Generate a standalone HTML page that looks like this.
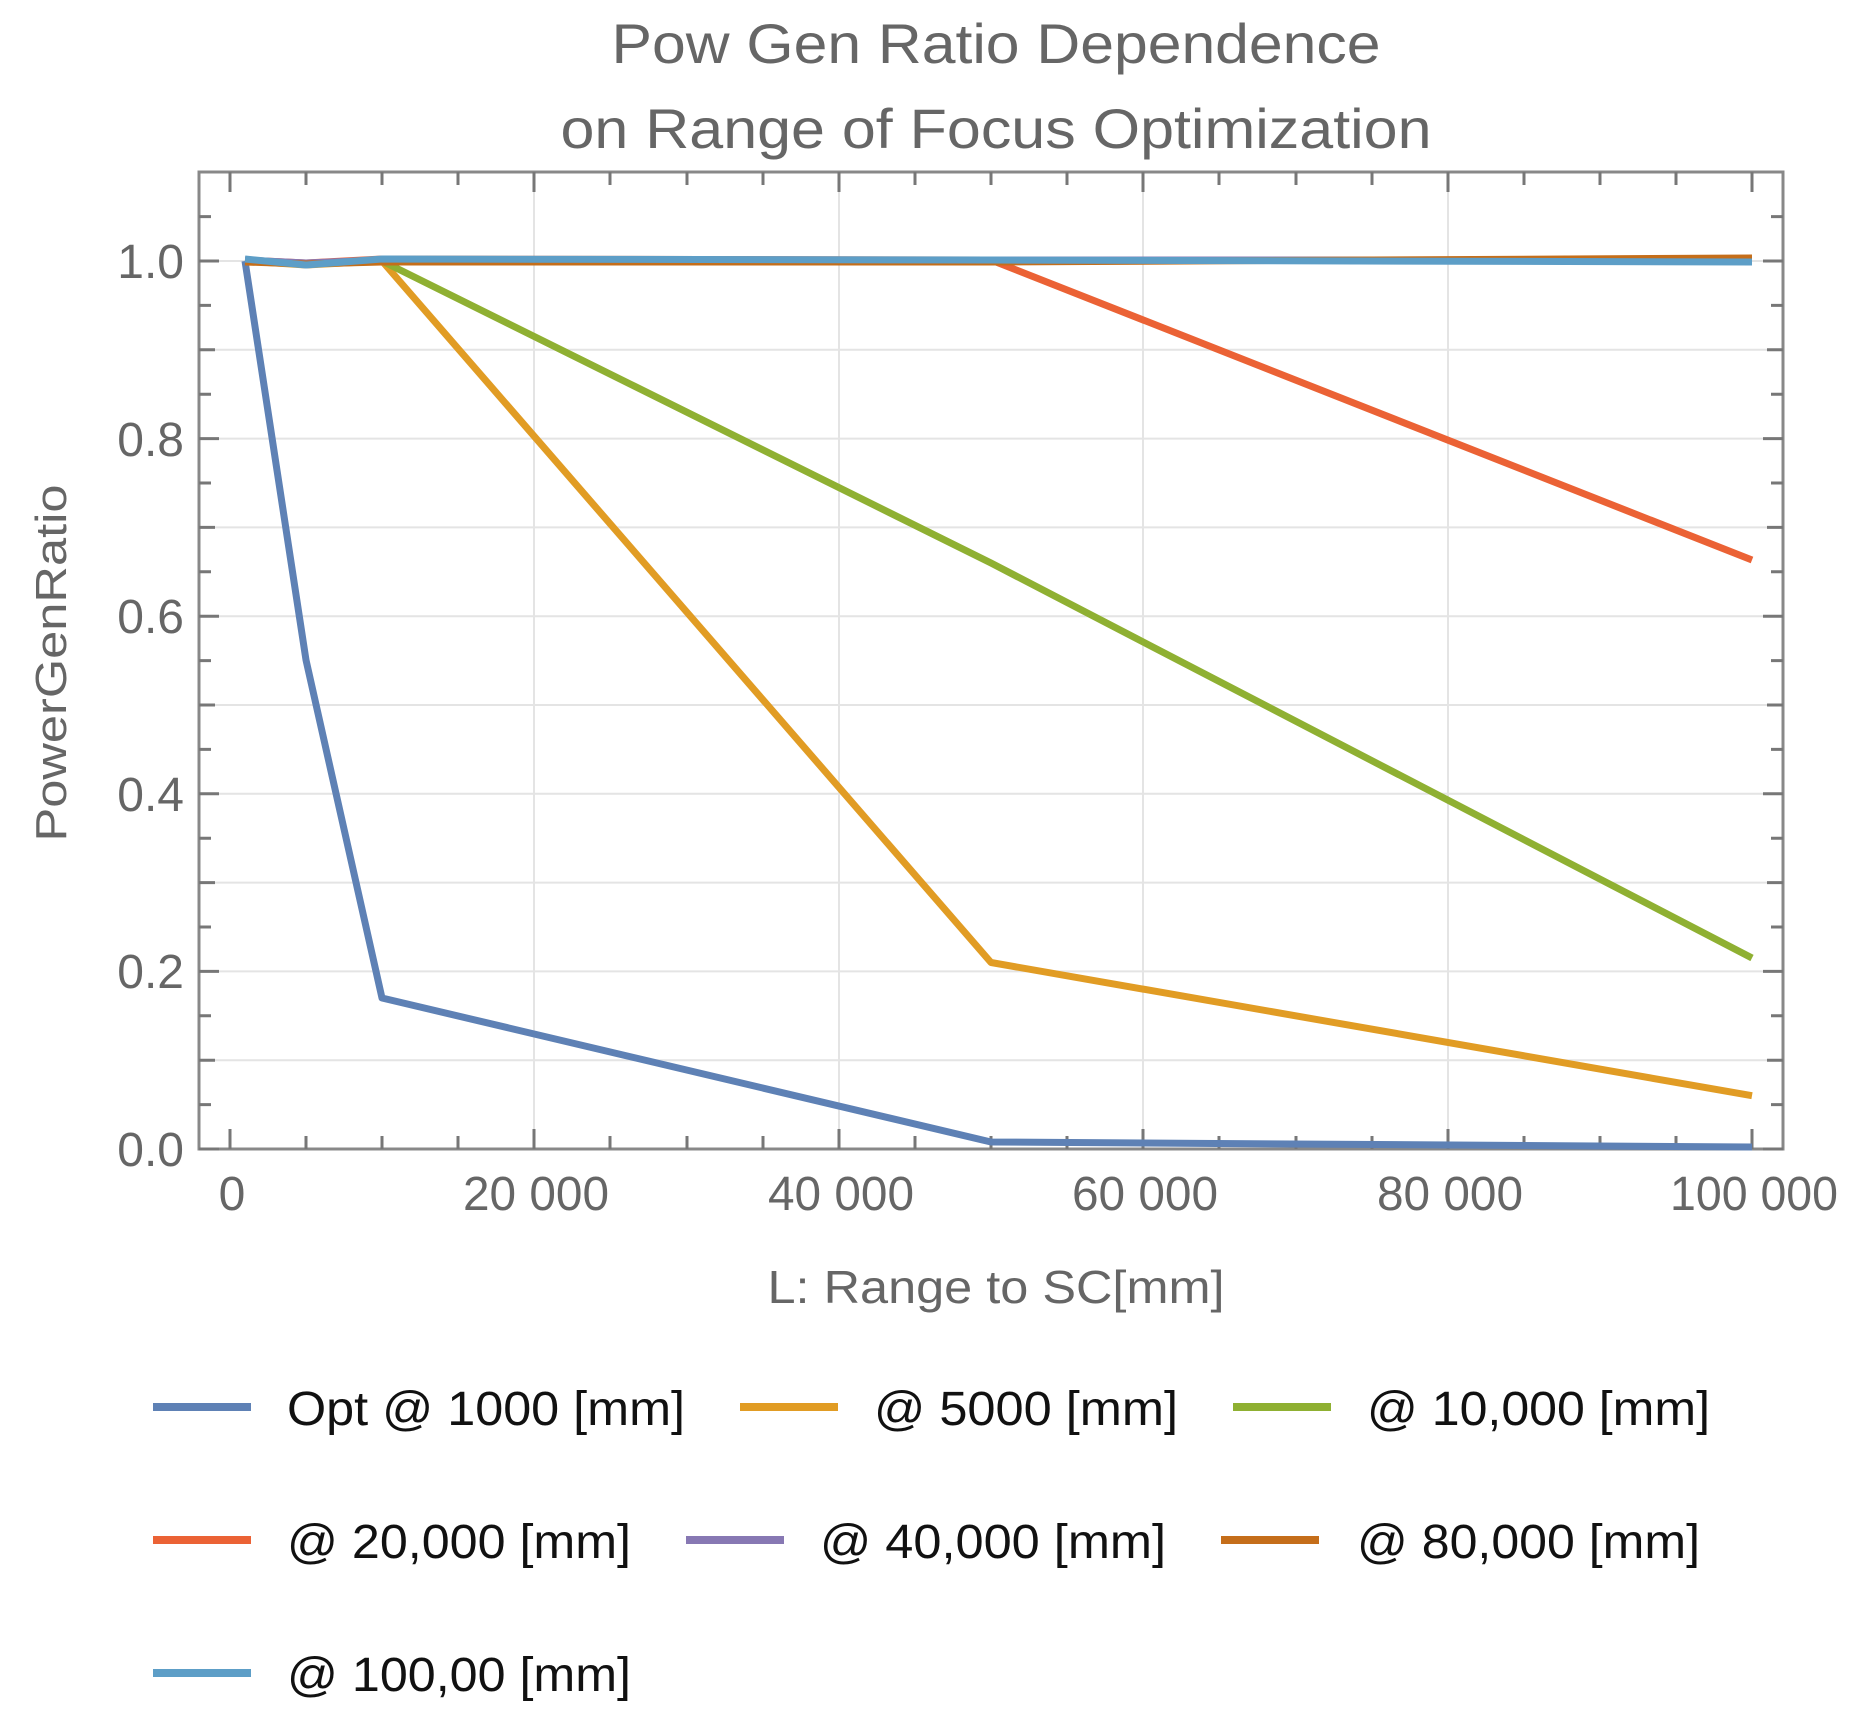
<!DOCTYPE html>
<html><head><meta charset="utf-8"><style>
html,body{margin:0;padding:0;background:#fff;}
svg{display:block;font-family:"Liberation Sans",Arial,sans-serif;}
</style></head><body>
<svg width="1868" height="1721" viewBox="0 0 1868 1721" xmlns="http://www.w3.org/2000/svg">
<rect width="1868" height="1721" fill="#fff"/>
<!-- titles -->
<text x="996" y="63" font-size="56" fill="#666" text-anchor="middle" textLength="769" lengthAdjust="spacingAndGlyphs">Pow Gen Ratio Dependence</text>
<text x="996" y="148" font-size="56" fill="#666" text-anchor="middle" textLength="871" lengthAdjust="spacingAndGlyphs">on Range of Focus Optimization</text>
<!-- grid -->
<g stroke="#e4e4e4" stroke-width="2">
<line x1="534" y1="172" x2="534" y2="1149"/><line x1="839" y1="172" x2="839" y2="1149"/><line x1="1143" y1="172" x2="1143" y2="1149"/><line x1="1448" y1="172" x2="1448" y2="1149"/>
<line x1="199" y1="261" x2="1783" y2="261"/><line x1="199" y1="349.8" x2="1783" y2="349.8"/><line x1="199" y1="438.6" x2="1783" y2="438.6"/><line x1="199" y1="527.4" x2="1783" y2="527.4"/><line x1="199" y1="616.2" x2="1783" y2="616.2"/><line x1="199" y1="705" x2="1783" y2="705"/><line x1="199" y1="793.8" x2="1783" y2="793.8"/><line x1="199" y1="882.6" x2="1783" y2="882.6"/><line x1="199" y1="971.4" x2="1783" y2="971.4"/><line x1="199" y1="1060.2" x2="1783" y2="1060.2"/>
</g>
<!-- frame -->
<rect x="199" y="172" width="1584" height="977" fill="none" stroke="#888" stroke-width="3"/>
<!-- ticks -->
<g stroke="#777" stroke-width="3" id="tk">
<path d="M230 1149v-20M306 1149v-13M382 1149v-13M458 1149v-13M534 1149v-20M610 1149v-13M687 1149v-13M763 1149v-13M839 1149v-20M915 1149v-13M991 1149v-13M1067 1149v-13M1143 1149v-20M1219 1149v-13M1296 1149v-13M1372 1149v-13M1448 1149v-20M1524 1149v-13M1600 1149v-13M1676 1149v-13M1752 1149v-20"/>
<path d="M230 172v20M306 172v13M382 172v13M458 172v13M534 172v20M610 172v13M687 172v13M763 172v13M839 172v20M915 172v13M991 172v13M1067 172v13M1143 172v20M1219 172v13M1296 172v13M1372 172v13M1448 172v20M1524 172v13M1600 172v13M1676 172v13M1752 172v20"/>
<path d="M199 1149h20M199 1104.6h12M199 1060.2h16M199 1015.8h12M199 971.4h20M199 927h12M199 882.6h16M199 838.2h12M199 793.8h20M199 749.4h12M199 705h16M199 660.6h12M199 616.2h20M199 571.8h12M199 527.4h16M199 483h12M199 438.6h20M199 394.2h12M199 349.8h16M199 305.4h12M199 261h20M199 216.6h12"/>
<path d="M1783 1149h-20M1783 1104.6h-12M1783 1060.2h-16M1783 1015.8h-12M1783 971.4h-20M1783 927h-12M1783 882.6h-16M1783 838.2h-12M1783 793.8h-20M1783 749.4h-12M1783 705h-16M1783 660.6h-12M1783 616.2h-20M1783 571.8h-12M1783 527.4h-16M1783 483h-12M1783 438.6h-20M1783 394.2h-12M1783 349.8h-16M1783 305.4h-12M1783 261h-20M1783 216.6h-12"/>
</g>
<!-- y tick labels -->
<g font-size="48" fill="#666" text-anchor="end">
<text x="184" y="278">1.0</text><text x="184" y="456">0.8</text><text x="184" y="633">0.6</text><text x="184" y="811">0.4</text><text x="184" y="988">0.2</text><text x="184" y="1166">0.0</text>
</g>
<!-- x tick labels -->
<g font-size="48" fill="#666" text-anchor="middle">
<text x="232" y="1210">0</text><text x="536" y="1210" textLength="146" lengthAdjust="spacingAndGlyphs">20 000</text><text x="841" y="1210" textLength="146" lengthAdjust="spacingAndGlyphs">40 000</text><text x="1145" y="1210" textLength="146" lengthAdjust="spacingAndGlyphs">60 000</text><text x="1450" y="1210" textLength="146" lengthAdjust="spacingAndGlyphs">80 000</text><text x="1754" y="1210" textLength="168" lengthAdjust="spacingAndGlyphs">100 000</text>
</g>
<text x="996" y="1303" font-size="46" fill="#666" text-anchor="middle" textLength="457" lengthAdjust="spacingAndGlyphs">L: Range to SC[mm]</text>
<text transform="translate(66,663) rotate(-90)" font-size="44" fill="#666" text-anchor="middle" textLength="357" lengthAdjust="spacingAndGlyphs">PowerGenRatio</text>
<!-- series -->
<g fill="none" stroke-width="7" stroke-linejoin="round">
<polyline stroke="#E19C24" points="245,261 306,265 382,261 991,962.5 1752,1095.7"/>
<polyline stroke="#8FB032" points="382,261 991,563 1752,958"/>
<polyline stroke="#EB6235" points="245,260 306,263 382,259 991,260 1752,560"/>
<polyline stroke="#5E81B5" points="245,261 306,660 382,998 991,1142 1752,1147"/>
<polyline stroke="#8778B3" points="245,260 306,263 382,260 991,260 1752,260"/>
<polyline stroke="#C56E1A" points="245,262 306,264 382,262 991,262 1752,258"/>
<polyline stroke="#5D9EC7" points="245,259 306,265 382,259 991,260 1752,262"/>
</g>
<!-- legend -->
<g stroke-width="8">
<line x1="153" y1="1407" x2="251" y2="1407" stroke="#5E81B5"/>
<line x1="740" y1="1407" x2="838" y2="1407" stroke="#E19C24"/>
<line x1="1233" y1="1407" x2="1331" y2="1407" stroke="#8FB032"/>
<line x1="153" y1="1540" x2="251" y2="1540" stroke="#EB6235"/>
<line x1="686" y1="1540" x2="784" y2="1540" stroke="#8778B3"/>
<line x1="1221" y1="1540" x2="1319" y2="1540" stroke="#C56E1A"/>
<line x1="153" y1="1673" x2="251" y2="1673" stroke="#5D9EC7"/>
</g>
<g font-size="48" fill="#111">
<text x="287" y="1425" textLength="398" lengthAdjust="spacingAndGlyphs">Opt @ 1000 [mm]</text>
<text x="874" y="1425" textLength="304" lengthAdjust="spacingAndGlyphs">@ 5000 [mm]</text>
<text x="1367" y="1425" textLength="343" lengthAdjust="spacingAndGlyphs">@ 10,000 [mm]</text>
<text x="287" y="1558" textLength="344" lengthAdjust="spacingAndGlyphs">@ 20,000 [mm]</text>
<text x="820" y="1558" textLength="346" lengthAdjust="spacingAndGlyphs">@ 40,000 [mm]</text>
<text x="1357" y="1558" textLength="343" lengthAdjust="spacingAndGlyphs">@ 80,000 [mm]</text>
<text x="287" y="1691" textLength="344" lengthAdjust="spacingAndGlyphs">@ 100,00 [mm]</text>
</g>
</svg>
</body></html>
